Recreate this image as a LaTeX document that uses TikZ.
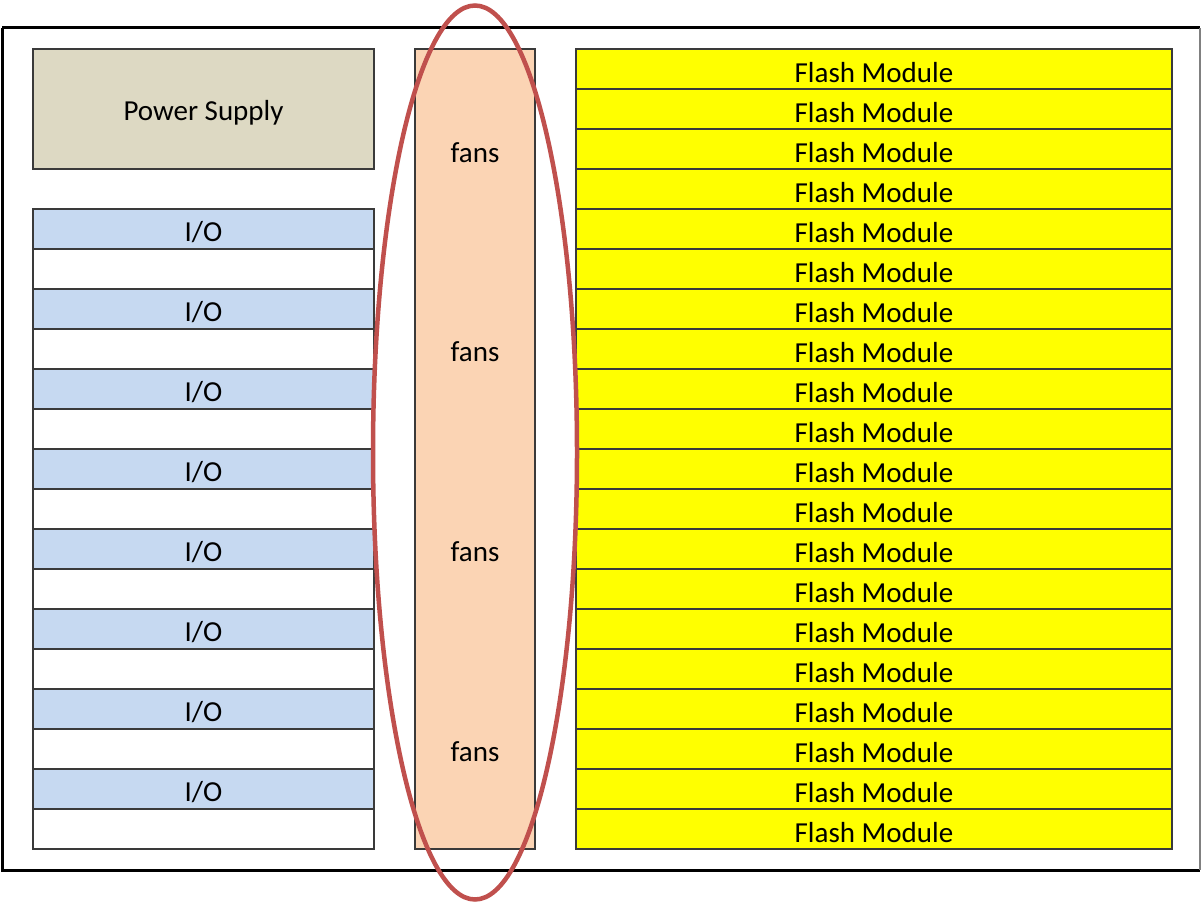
\documentclass[tikz,border=0pt]{standalone}
\usepackage{fontspec}
\setmainfont{Carlito}
\definecolor{psfill}{HTML}{DDD9C3}
\definecolor{iofill}{HTML}{C6D9F1}
\definecolor{fanfill}{HTML}{FBD4B4}
\definecolor{flashfill}{HTML}{FFFF00}
\definecolor{ringred}{HTML}{C0504D}
\definecolor{edge}{HTML}{3A3A3A}
\begin{document}
\begin{tikzpicture}[x=1pt,y=-1pt,
  font=\fontsize{29}{34}\selectfont,
  cell/.style={draw=edge,line width=1.6pt,inner sep=0pt,outer sep=0pt,anchor=north west},
  psbox/.style={cell,fill=psfill,minimum width=341pt,minimum height=120pt},
  iobox/.style={cell,fill=iofill,minimum width=341pt,minimum height=40pt},
  blankbox/.style={cell,fill=white,minimum width=341pt,minimum height=40pt},
  flashbox/.style={cell,fill=flashfill,minimum width=596pt,minimum height=40pt},
  fanbox/.style={cell,fill=fanfill,minimum width=120pt,minimum height=800pt},
  ring/.style={draw=ringred,line width=4.5pt}]
\useasboundingbox (0,0) rectangle (1201,904);
% chassis outline
\draw[line width=3pt] (2,28) -- (2,870) -- (1200,870);
\draw[line width=3pt] (2,28) -- (1200,28);
\draw[line width=1.2pt,gray] (1200,28) -- (1200,870);
% power supply
\node[psbox] (ps) at (33,49) {};
\node (pslabel) at ([yshift=-3.5pt]ps.center) {Power Supply};
% I/O slots with blank spacers
\foreach \i in {0,...,7}{
  \node[iobox] (io\i) at (33,209+80*\i) {};
  \node (iolabel\i) at ([yshift=-3.5pt]io\i.center) {I/O};
  \node[blankbox] (gap\i) at (33,249+80*\i) {};
}
% fan column
\node[fanbox] (fans) at (415,49) {};
\foreach \y [count=\k] in {153,352,552,752}
  \node (fanlabel\k) at (475,\y) {fans};
% flash modules
\foreach \i in {0,...,19}{
  \node[flashbox] (fm\i) at (576,49+40*\i) {};
  \node (fmlabel\i) at ([yshift=-3.5pt]fm\i.center) {Flash Module};
}
% highlight around the fans
\draw[ring] (475,452.5) ellipse [x radius=102, y radius=447];
\end{tikzpicture}
\end{document}
